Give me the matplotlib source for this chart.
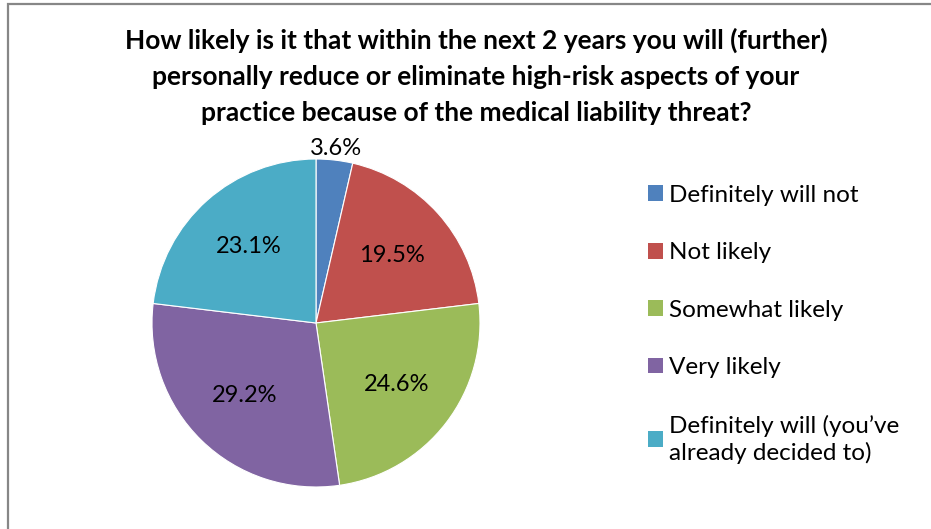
import matplotlib
matplotlib.use("Agg")
import matplotlib.pyplot as plt
from matplotlib.patches import Patch, Rectangle
import numpy as np

# values (percent)
categories = ["Definitely will not", "Not likely", "Somewhat likely",
              "Very likely", "Definitely will (you\u2019ve\nalready decided to)"]
shares = [3.6, 19.5, 24.6, 29.2, 23.1]
colors = ["#4F81BD", "#C0504D", "#9BBB59", "#8064A2", "#4BACC6"]
title = ("How likely is it that within the next 2 years you will (further)\n"
         "personally reduce or eliminate high-risk aspects of your\n"
         "practice because of the medical liability threat?")

plt.rcParams["font.family"] = ["Lato", "DejaVu Sans"]

W, H = 931, 529
fig = plt.figure(figsize=(W / 100, H / 100), dpi=100)

# chart area frame (only top and left edges show in the crop)
fig.add_artist(Rectangle((7.5 / W, -0.1), 1.2, (H - 4.5) / H + 0.1,
                         transform=fig.transFigure, fill=False,
                         edgecolor="#878787", linewidth=1.6))

fig.text(476 / W, 1 - 76 / H, title, ha="center", va="center",
         fontsize=19, fontweight="bold", linespacing=1.6)

# pie: centre (316, 323) px, radius 164 px
cx, cy, r = 316, 323, 164
ax = fig.add_axes([(cx - r) / W, (H - cy - r) / H, 2 * r / W, 2 * r / H])
wedges, texts, autotexts = ax.pie(
    shares, colors=colors, startangle=90, counterclock=False,
    autopct="%.1f%%", pctdistance=0.62,
    wedgeprops=dict(edgecolor="white", linewidth=0.8),
    textprops=dict(fontsize=17, color="black"))
ax.set_xlim(-1, 1)
ax.set_ylim(-1, 1)

# small slice label sits just outside the pie
w0 = wedges[0]
mid = np.deg2rad((w0.theta1 + w0.theta2) / 2)
autotexts[0].set_position((1.07 * np.cos(mid), 1.07 * np.sin(mid)))

handles = [Patch(facecolor=c, edgecolor="none") for c in colors]
leg = fig.legend(handles, categories, loc="upper left",
                 bbox_to_anchor=(638 / W, 1 - 175 / H), frameon=False,
                 fontsize=17.5, handlelength=0.62, handleheight=0.62,
                 handletextpad=0.25, labelspacing=1.5, borderaxespad=0)
for t in leg.get_texts():
    t.set_linespacing(1.3)

fig.savefig("out.png", dpi=100)
